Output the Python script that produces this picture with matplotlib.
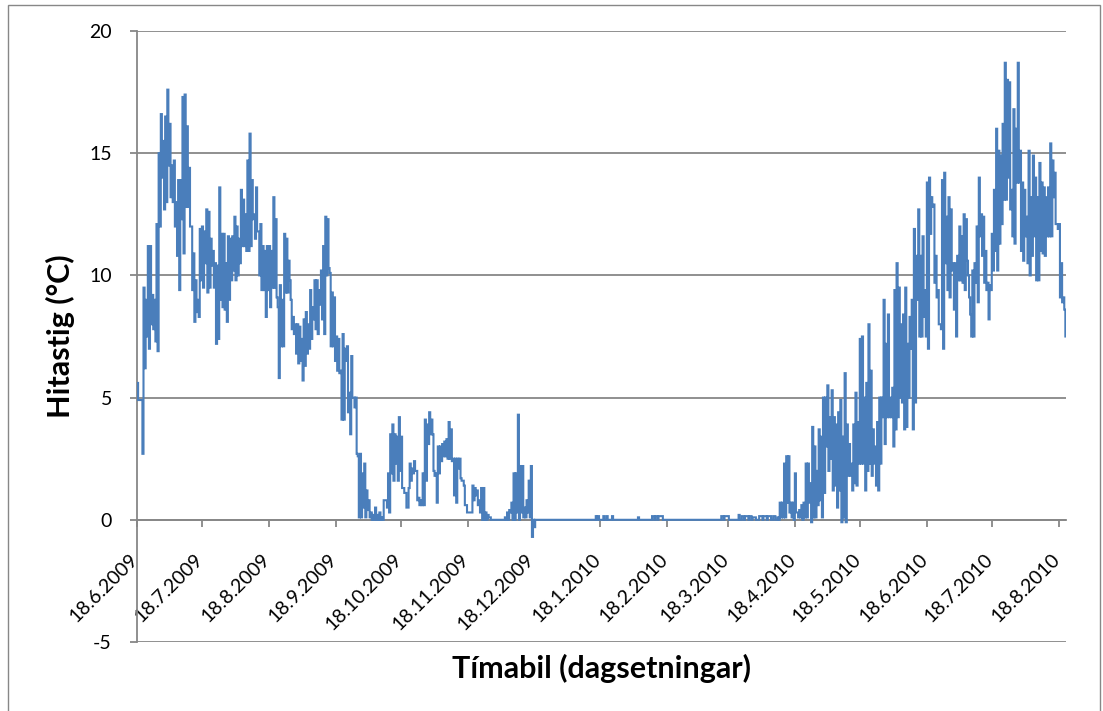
import numpy as np
import matplotlib
matplotlib.use("Agg")
import matplotlib.pyplot as plt
import matplotlib.transforms as mtransforms
from matplotlib.patches import Rectangle

plt.rcParams['font.family'] = ['Lato', 'DejaVu Sans']

START = np.datetime64('2009-06-18')

tick_labels = ['18.6.2009', '18.7.2009', '18.8.2009', '18.9.2009', '18.10.2009',
               '18.11.2009', '18.12.2009', '18.1.2010', '18.2.2010', '18.3.2010',
               '18.4.2010', '18.5.2010', '18.6.2010', '18.7.2010', '18.8.2010']
y_ticks = [-5, 0, 5, 10, 15, 20]

# temperatures, two readings per day (half-day steps), starting at the given day offset
summer_2009_start = 0
summer_2009 = [
    5.6, 4.9, 4.9, 4.9, 4.9, 2.7, 9.5, 6.2, 9.0, 7.5, 11.2, 7.0, 11.2, 8.0, 9.2, 7.8,
    9.0, 7.3, 12.1, 6.9, 15.0, 12.0, 16.6, 14.0, 15.5, 12.7, 16.5, 13.0, 17.6, 14.5,
    16.2, 13.2, 14.5, 13.0, 14.7, 12.0, 13.0, 10.8, 13.9, 9.4, 13.9, 12.3, 17.3, 10.9,
    17.4, 12.8, 16.1, 12.8, 14.4, 12.0, 12.0, 9.4, 10.9, 8.1, 9.8, 8.5, 9.0, 8.3,
    11.9, 9.8, 12.0, 9.5, 11.8, 10.5, 12.7, 9.3, 12.6, 9.5, 11.5, 10.4, 11.0, 9.5,
    10.5, 7.2, 10.4, 7.4, 13.6, 9.0, 11.7, 8.7, 11.7, 8.6, 10.5, 8.1, 11.6, 9.0,
    11.5, 9.8, 11.6, 10.2, 12.4, 9.8, 12.0, 10.0, 11.5, 10.5, 13.5, 11.2, 13.1, 11.2,
    12.5, 11.0, 14.7, 11.0, 15.8, 11.2, 13.9, 12.3, 12.5, 11.5, 13.6, 11.8, 11.8, 10.0,
    12.1, 9.4, 11.2, 9.4, 11.0, 8.3, 11.2, 9.4, 11.2, 8.7, 11.0, 9.5, 13.2, 9.5,
    12.3, 9.1, 8.7, 5.8, 9.6, 7.1, 9.0, 7.1, 11.7, 9.3, 11.5, 9.3]

autumn_2009_start = 70
autumn_2009 = [
    10.6, 9.8, 9.0, 7.8, 8.3, 7.6, 8.0, 6.8, 8.0, 6.4, 7.9, 6.5, 7.4, 5.7, 8.2, 6.3,
    8.5, 6.8, 8.0, 7.0, 9.4, 7.4, 8.7, 8.2, 9.8, 7.8, 9.8, 7.6, 9.4, 8.8, 10.2, 8.2,
    11.2, 7.6, 12.4, 10.0, 12.3, 10.3, 10.1, 7.1, 9.3, 7.1, 9.1, 6.5, 7.5, 6.1,
    7.4, 6.0, 6.1, 4.1, 7.6, 4.1, 7.0, 6.5, 7.1, 4.4, 5.2, 3.5, 6.7, 5.0, 5.0, 4.6,
    5.0, 2.7, 2.6, 0.1, 2.7, 0.1, 1.9, 0.5, 2.3, 0.1, 1.2, 0.4, 0.8, 0.1, 0.3, 0.0,
    0.2, 0.0, 0.5, 0.0, 0.2, 0.0, 0.3, 0.0, 0.1, 0.0, 0.8, 0.8, 0.8, 0.5, 1.9, 0.3,
    3.5, 1.9, 3.9, 1.6, 3.5, 2.3, 3.4, 1.6, 4.2, 2.0, 3.4, 1.3, 1.3, 1.1, 1.1, 0.5,
    0.5, 1.3, 2.3, 1.6, 2.1, 1.9, 2.4, 2.0, 2.0, 0.8, 0.9, 0.6, 0.8, 0.6, 1.9, 0.6,
    4.1, 1.6, 3.9, 3.1, 4.4, 3.5, 4.1, 3.5, 2.0, 1.8, 1.9, 0.7, 3.0, 1.9]

early_winter_start = 140
early_winter = [
    3.0, 2.4, 3.1, 2.6, 3.2, 2.6, 3.3, 2.5, 4.0, 2.5, 3.7, 2.4, 2.5, 1.0, 2.5, 0.7,
    2.5, 2.1, 2.5, 1.7, 1.6, 1.6, 1.4, 0.6, 0.6, 0.3, 0.3, 0.3, 0.3, 0.3, 1.4, 0.8,
    1.3, 1.0, 1.2, 0.6, 0.8, 0.3, 1.3, 0.0, 1.3, 0.0, 0.3, 0.0, 0.2, 0.1, 0.1, 0.0,
    0.0, 0.0, 0.0, 0.0, 0.0, 0.0, 0.0, 0.0, 0.0, 0.0, 0.0, 0.0, 0.1, 0.0, 0.3, 0.0,
    0.4, 0.3, 0.7, 0.0, 1.9, 0.0, 1.9, 0.3, 4.3, 0.0, 2.2, 0.3, 2.2, 0.1, 0.5, 0.1,
    0.8, 0.3, 1.6, 0.1, 2.2, -0.7, 0.0, -0.3]

# mid-winter: almost constant 0 with tiny blips (day offset, value)
winter_days = [184.0, 212.0, 212.5, 213.0, 213.5, 215.5, 216.0, 217.0, 217.5, 219.5,
               220.0, 231.5, 232.0, 238.0, 239.0, 239.5, 240.5, 241.0, 243.0, 270.0,
               271.0, 271.5, 273.5, 278.0, 278.5, 279.5, 280.5, 281.0, 282.5, 283.0,
               284.0, 284.5, 286.0, 287.5, 289.0, 289.5, 291.0, 291.5, 293.0, 294.0,
               295.0]
winter_vals = [0.0, 0.15, 0.0, 0.15, 0.0, 0.15, 0.0, 0.15, 0.0, 0.15,
               0.0, 0.1, 0.0, 0.15, 0.0, 0.15, 0.0, 0.15, 0.0, 0.15,
               0.0, 0.15, 0.0, 0.2, 0.0, 0.15, 0.0, 0.15, 0.0, 0.15,
               0.0, 0.1, 0.0, 0.15, 0.0, 0.15, 0.0, 0.15, 0.0, 0.15,
               0.0]

spring_2010_start = 296
spring_2010 = [
    0.1, 0.0, 0.7, 0.1, 0.7, 0.1, 2.3, 0.1, 2.6, 0.7, 2.6, 0.3, 0.7, 0.1, 0.7, 0.0,
    1.9, 0.3, 0.3, 0.1, 0.4, 0.1, 0.6, 0.0, 0.7, 0.1, 2.3, 0.1, 2.3, 0.7, 1.5, -0.1,
    3.8, 0.1, 3.0, 0.1, 2.0, 0.6, 3.7, 0.8, 3.4, 0.1, 5.0, 1.1, 5.0, 3.0, 5.5, 2.0,
    4.2, 2.5, 5.3, 1.2, 4.2, 1.4, 3.9, 0.5, 4.4, 1.2, 4.9, -0.1, 3.4, 0.1, 6.0, -0.1,
    3.9, 1.8, 3.1, 1.8, 2.3, 1.2, 3.9, 1.5, 5.2, 1.4, 4.0, 2.3, 7.4, 2.3, 7.5, 2.3,
    5.0, 1.2, 5.6, 2.0, 8.0, 2.3, 6.1, 1.8, 3.7, 2.3, 3.0, 1.4, 4.0, 1.2, 5.0, 2.3,
    5.0, 4.2, 9.0, 3.1, 7.2, 4.2, 8.4, 4.2, 5.0, 4.2, 5.4, 3.0, 9.4, 3.7, 10.5, 4.2,
    9.5, 5.0, 8.0, 4.8, 8.4, 3.7, 9.5, 3.8, 7.2, 5.0, 8.3, 7.0, 9.0, 3.7, 11.9, 4.8]

summer_2010_start = 360
summer_2010 = [
    10.8, 9.0, 12.7, 7.5, 10.8, 7.5, 11.6, 8.3, 9.4, 7.5, 13.8, 7.0, 14.0, 11.7,
    13.2, 12.8, 12.9, 9.7, 10.8, 9.1, 9.4, 8.0, 8.0, 7.8, 13.9, 7.0, 14.2, 10.5,
    12.4, 9.4, 13.2, 9.1, 12.7, 10.2, 10.5, 8.6, 10.5, 7.5, 10.8, 9.8, 12.0, 9.8,
    11.6, 9.7, 12.5, 9.4, 12.3, 10.6, 10.0, 9.1, 8.4, 7.5, 10.2, 7.5, 10.5, 9.7,
    12.0, 8.9, 14.0, 11.6, 12.5, 10.8, 12.4, 9.7, 11.0, 9.4, 9.7, 8.2, 9.6, 9.4,
    11.7, 10.2, 13.5, 11.0, 16.0, 10.2, 15.1, 11.3, 14.9, 12.1, 16.2, 13.1,
    18.7, 13.1, 18.0, 14.0, 17.9, 12.7, 13.5, 11.6, 16.8, 11.3, 16.0, 13.8,
    18.7, 13.8, 15.1, 11.0, 13.8, 10.6, 13.5, 11.6, 12.4, 10.5, 15.1, 10.0,
    13.2, 10.8, 14.9, 11.6, 14.0, 9.8, 13.2, 9.8, 14.6, 11.0, 13.8, 10.9,
    13.6, 10.8, 13.2, 11.6, 13.6, 11.6, 15.4, 11.6, 14.7, 13.2, 14.2, 12.1,
    12.1, 11.9, 12.1, 9.1, 10.5, 8.9, 9.1, 8.6, 7.5]

def halfday(start, vals):
    return start + 0.5 * np.arange(len(vals))

days = np.concatenate([
    halfday(summer_2009_start, summer_2009),
    halfday(autumn_2009_start, autumn_2009),
    halfday(early_winter_start, early_winter),
    np.array(winter_days),
    halfday(spring_2010_start, spring_2010),
    halfday(summer_2010_start, summer_2010)])
temps = np.concatenate([summer_2009, autumn_2009, early_winter, winter_vals,
                        spring_2010, summer_2010])

def label_to_day(lbl):
    d, m, y = lbl.split('.')
    dt = np.datetime64(f"{int(y):04d}-{int(m):02d}-{int(d):02d}")
    return int((dt - START).astype(int))

tick_days = [label_to_day(l) for l in tick_labels]

W, H = 1103, 711
fig = plt.figure(figsize=(W / 100, H / 100), dpi=100)
ax = fig.add_axes([137 / W, 1 - 642 / H, (1066 - 137) / W, (642 - 31) / H])

grid_c = '#878787'
line_c = '#4a7ebb'

# spine position first (it resets ticks)
for s in ['top', 'right']:
    ax.spines[s].set_visible(False)
ax.spines['bottom'].set_position(('data', 0))
ax.spines['bottom'].set_color(grid_c)
ax.spines['bottom'].set_linewidth(1.3)
ax.spines['left'].set_color(grid_c)
ax.spines['left'].set_linewidth(1.3)
ax.spines['bottom'].set_zorder(2)

for yv in y_ticks:
    ax.axhline(yv, color=grid_c, lw=1.3, zorder=1)

ax.plot(days, temps, drawstyle='steps-post', color=line_c, lw=1.5, zorder=3,
        solid_joinstyle='miter')

ax.set_xlim(0, 429.3)
ax.set_ylim(-5, 20)
ax.set_yticks(y_ticks)
ax.set_yticklabels([str(v) for v in y_ticks])
ax.set_xticks(tick_days)
ax.set_xticklabels(tick_labels, rotation=45, ha='right', va='top',
                   rotation_mode='default')

ax.tick_params(axis='y', direction='out', length=5, width=1.3, color=grid_c,
               labelsize=14, pad=13, labelcolor='black')
ax.tick_params(axis='x', direction='out', length=5, width=1.3, color=grid_c,
               labelsize=14, pad=17, labelcolor='black')

shift = mtransforms.ScaledTranslation(4 / 100, 0, fig.dpi_scale_trans)
for lbl in ax.get_xticklabels():
    lbl.set_transform(lbl.get_transform() + shift)

fig.text(60 / W, 1 - 336 / H, 'Hitastig (°C)', rotation=90, ha='center',
         va='center', fontsize=22, fontweight='bold')
fig.text(601 / W, 1 - 668 / H, 'Tímabil (dagsetningar)', ha='center',
         va='center', fontsize=22, fontweight='bold')

fig.patches.append(Rectangle((8 / W, -0.02), (1100 - 8) / W, 1.02 - 5 / H,
                             transform=fig.transFigure, fill=False,
                             edgecolor='#878787', lw=1.0))

fig.savefig('out.png', dpi=100)
